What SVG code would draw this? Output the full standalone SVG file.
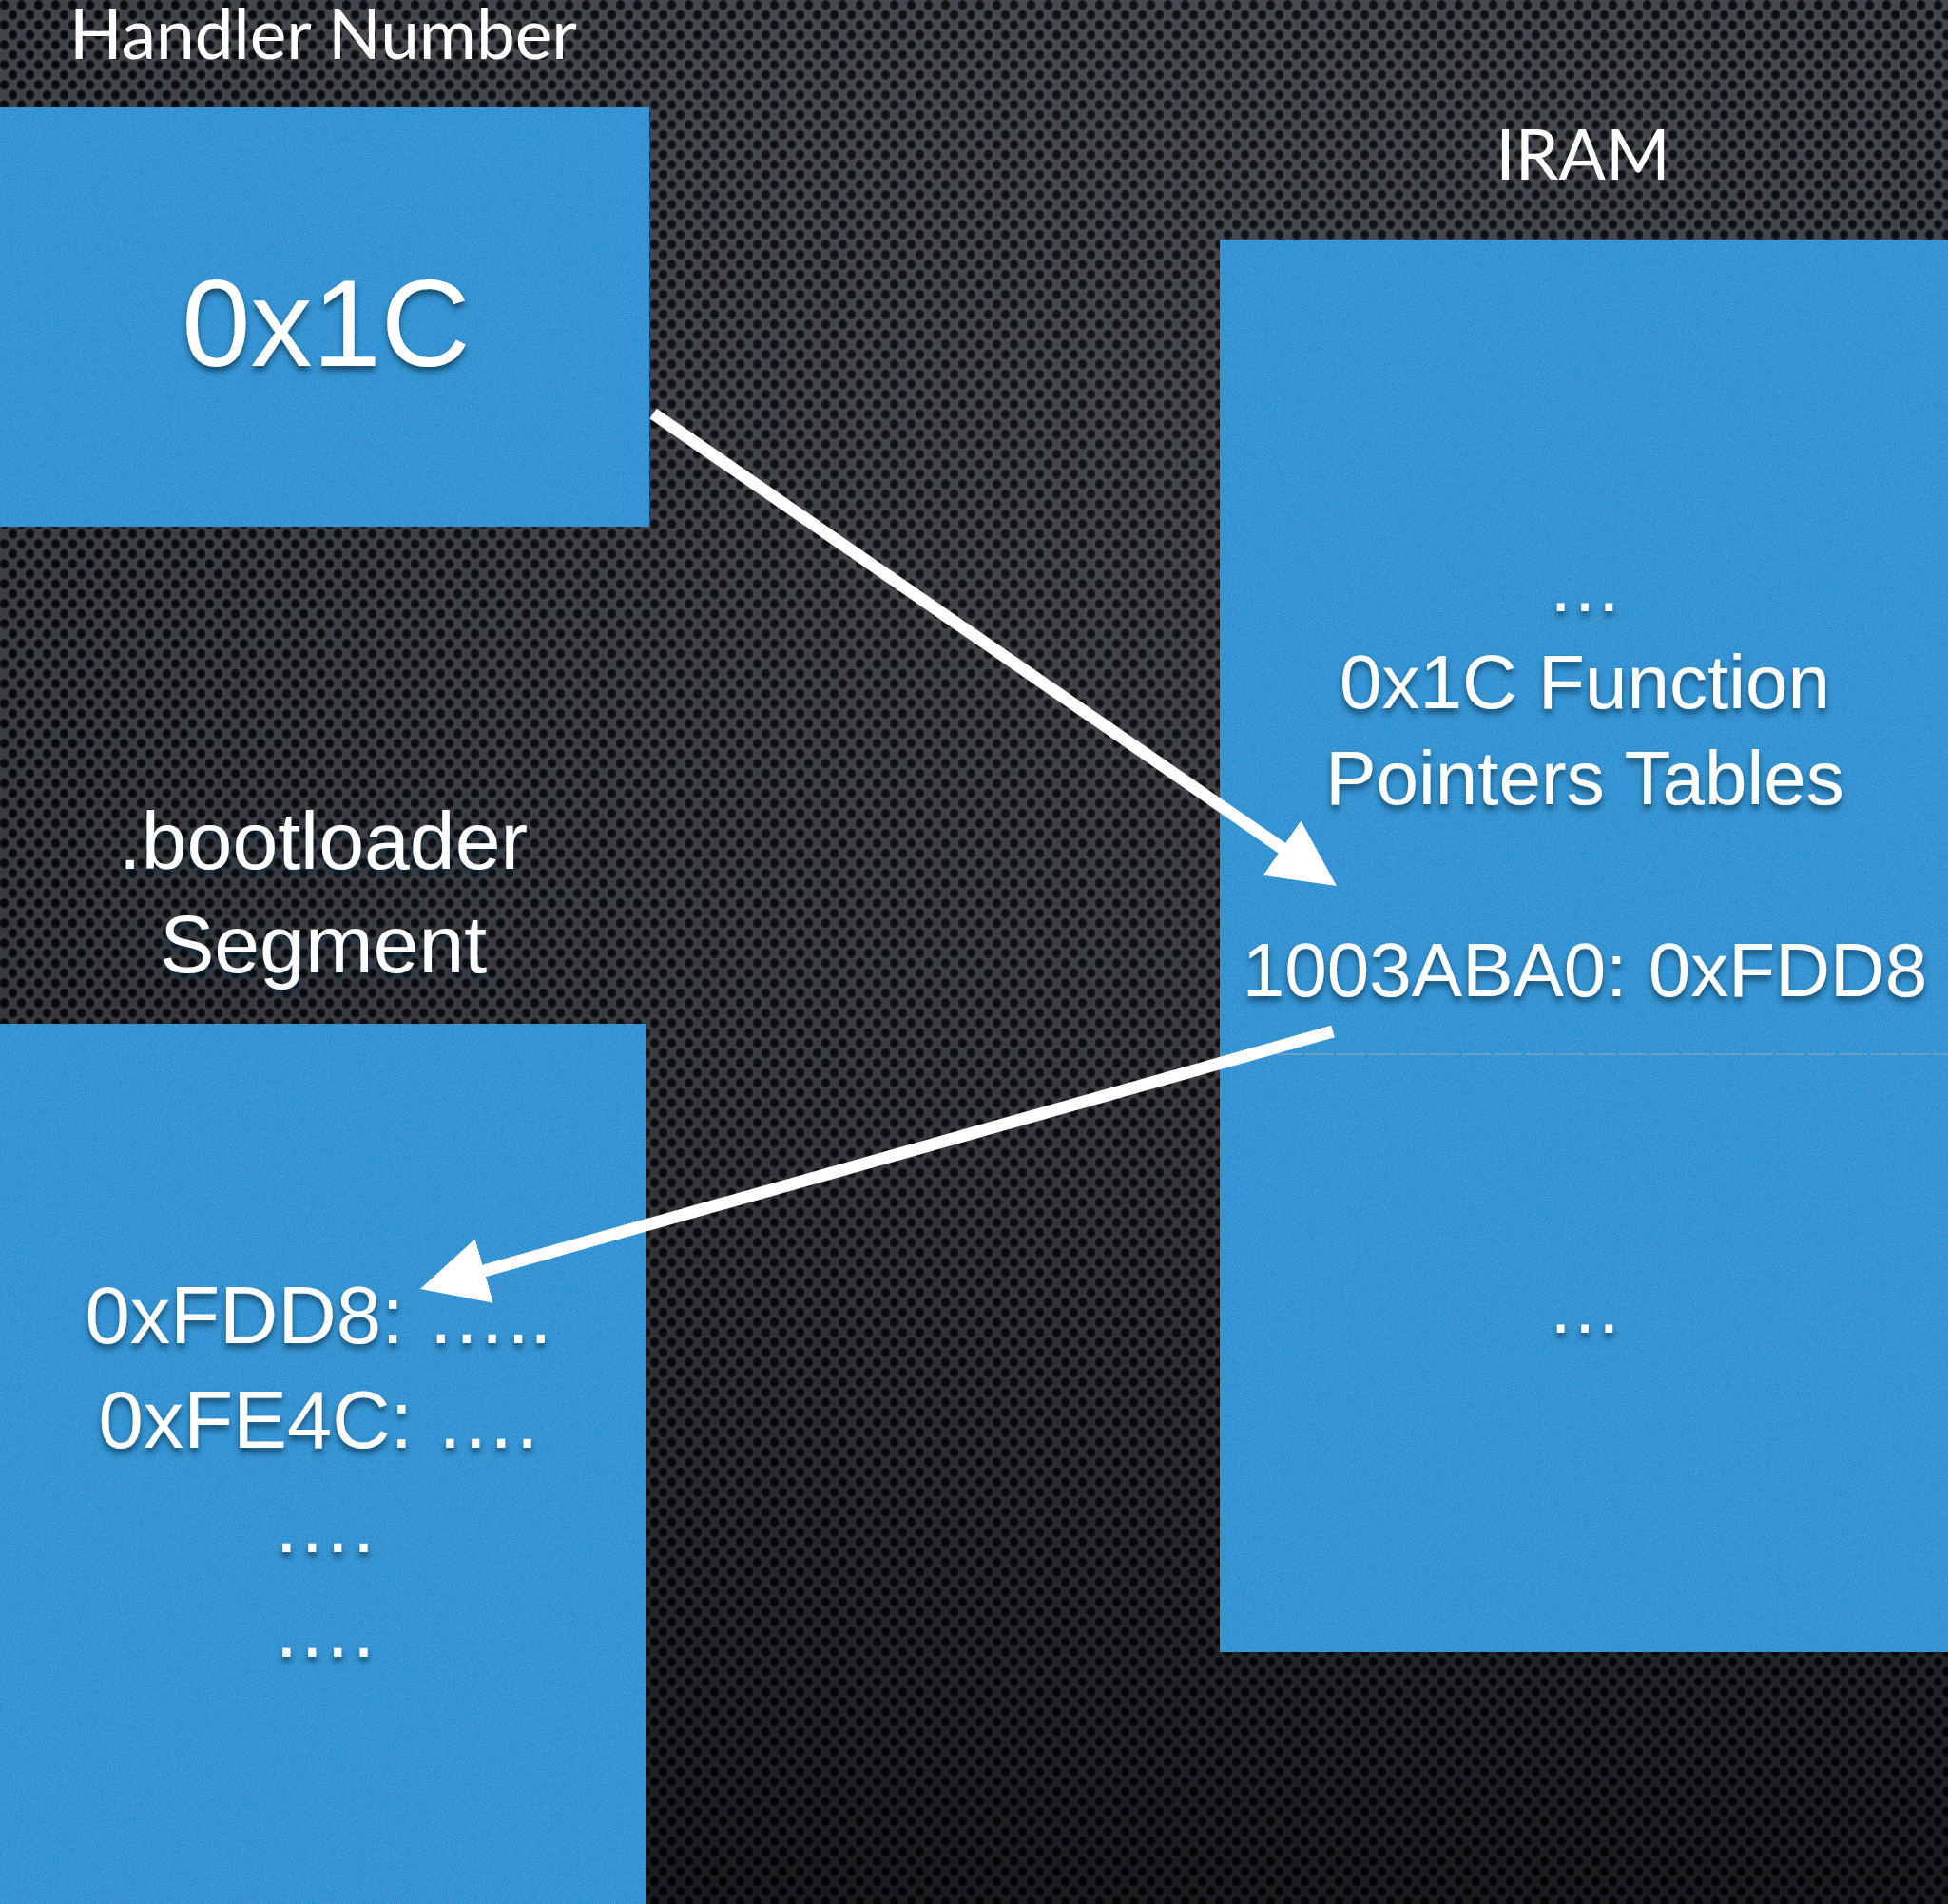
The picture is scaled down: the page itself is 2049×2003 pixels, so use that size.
<svg xmlns="http://www.w3.org/2000/svg" width="2049" height="2003" viewBox="0 0 2049 2003">
<style>
  .title { font-family: Lato, "Open Sans", "DejaVu Sans", sans-serif; font-size: 73px; fill: #ffffff; text-anchor: middle; }
  .lbl { font-family: "Liberation Sans", Arial, sans-serif; fill: #ffffff; text-anchor: middle; }
  .box { fill: #2591d2; }
  .conn { stroke: #ffffff; stroke-width: 13; fill: none; stroke-linecap: butt; }
  .divider { stroke: #9fb3c0; stroke-width: 1.5; stroke-opacity: 0.6; stroke-dasharray: 30 3; }
</style>
<defs>
  <pattern id="holes" x="0" y="0" width="18" height="21" patternUnits="userSpaceOnUse">
    <rect width="18" height="21" fill="#42454c"/>
    <ellipse cx="4.5" cy="5.25" rx="4.9" ry="5.3" fill="#16181d"/>
    <ellipse cx="13.5" cy="15.75" rx="4.9" ry="5.3" fill="#16181d"/>
    <ellipse cx="4.5" cy="5" rx="3.4" ry="3.8" fill="#07080b"/>
    <ellipse cx="13.5" cy="15.5" rx="3.4" ry="3.8" fill="#07080b"/>
  </pattern>
  <linearGradient id="shade" x1="0" y1="0" x2="0" y2="1">
    <stop offset="0" stop-color="#000" stop-opacity="0.05"/>
    <stop offset="0.55" stop-color="#000" stop-opacity="0.2"/>
    <stop offset="1" stop-color="#000" stop-opacity="0.6"/>
  </linearGradient>
  <radialGradient id="glow" cx="0.6" cy="0.25" r="0.8">
    <stop offset="0" stop-color="#ffffff" stop-opacity="0.06"/>
    <stop offset="1" stop-color="#ffffff" stop-opacity="0"/>
  </radialGradient>
  <filter id="grain" x="0" y="0" width="100%" height="100%">
    <feTurbulence type="fractalNoise" baseFrequency="0.9" numOctaves="2" seed="4" result="n"/>
    <feColorMatrix in="n" type="matrix" values="0 0 0 0 1  0 0 0 0 1  0 0 0 0 1  0.2 0 0 0 -0.08" result="w"/>
    <feComposite in="w" in2="SourceGraphic" operator="in" result="wn"/>
    <feMerge><feMergeNode in="SourceGraphic"/><feMergeNode in="wn"/></feMerge>
  </filter>
  <filter id="tshadow" x="-10%" y="-20%" width="120%" height="150%">
    <feDropShadow dx="0" dy="5" stdDeviation="3" flood-color="#06243a" flood-opacity="0.65"/>
  </filter>
  <marker id="head" viewBox="0 0 70 70" markerWidth="70" markerHeight="70" refX="10" refY="35" orient="auto" markerUnits="userSpaceOnUse">
    <path d="M0,0 L70,35 L0,70 Z" fill="#ffffff"/>
  </marker>
</defs>

<rect x="0" y="0" width="2049" height="2003" fill="url(#holes)"/>
<rect x="0" y="0" width="2049" height="2003" fill="url(#glow)"/>
<rect x="0" y="0" width="2049" height="2003" fill="url(#shade)"/>

<g id="handler">
  <text class="title" x="340" y="62">Handler Number</text>
  <rect class="box" x="0" y="113" width="683" height="441" filter="url(#grain)"/>
  <text class="lbl" x="343" y="385" font-size="130" filter="url(#tshadow)">0x1C</text>
</g>

<g id="iram">
  <text class="title" x="1665" y="189">IRAM</text>
  <rect class="box" x="1283" y="252" width="766" height="1486" filter="url(#grain)"/>
  <line class="divider" x1="1340" y1="1109" x2="2049" y2="1109"/>
  <g class="lbl" font-size="80" filter="url(#tshadow)">
    <text x="1667" y="643">…</text>
    <text x="1667" y="745">0x1C Function</text>
    <text x="1667" y="846">Pointers Tables</text>
    <text x="1667" y="1048">1003ABA0: 0xFDD8</text>
    <text x="1667" y="1402">…</text>
  </g>
</g>

<g id="bootloader">
  <g class="lbl" font-size="86" filter="url(#tshadow)">
    <text x="340" y="914">.bootloader</text>
    <text x="340" y="1023">Segment</text>
  </g>
  <rect class="box" x="0" y="1077" width="680" height="926" filter="url(#grain)"/>
  <g class="lbl" font-size="85" filter="url(#tshadow)">
    <text x="335" y="1413">0xFDD8: …..</text>
    <text x="335" y="1523">0xFE4C: ….</text>
    <text x="340" y="1633">….</text>
    <text x="340" y="1743">….</text>
  </g>
</g>

<g id="connectors">
  <path class="conn" d="M687,435 L1356.6,897.9" marker-end="url(#head)"/>
  <path class="conn" d="M1402,1085 L499.7,1339.7" marker-end="url(#head)"/>
</g>
</svg>
